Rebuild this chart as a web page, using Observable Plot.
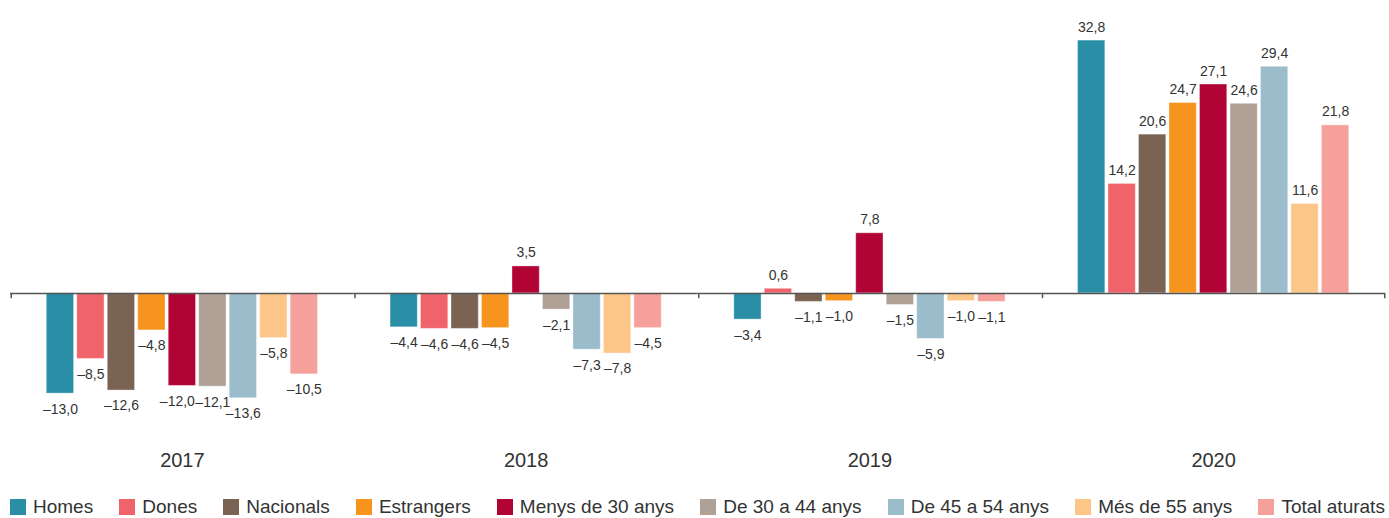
<!DOCTYPE html>
<html>
<head>
<meta charset="utf-8">
<script src="https://cdn.jsdelivr.net/npm/d3@7"></script>
<script src="https://cdn.jsdelivr.net/npm/@observablehq/plot@0.6"></script>
<style>
  html, body { margin: 0; padding: 0; background: #fff; }
  body { width: 1389px; height: 518px; overflow: hidden; font-family: "Liberation Sans", Arial, Helvetica, sans-serif; }
  #chart svg { display: block; }
  #chart svg text { font-family: "Liberation Sans", Arial, Helvetica, sans-serif; }
  #legend .lg-swatches {
    font-family: "Liberation Sans", Arial, Helvetica, sans-serif;
    font-size: 19px; color: #333; margin: 0; min-height: 0; height: 22px;
    display: flex; flex-wrap: nowrap; justify-content: space-between; align-items: center;
    padding: 0 4px 0 10px; white-space: nowrap; line-height: 22px;
  }
  #legend .lg-swatch { margin-right: 0; display: inline-flex; align-items: center; }
  #legend .lg-swatch > svg { margin-right: 7px; }
</style>
</head>
<body>
<div id="chart"></div>
<div id="legend"></div>
<script>
const years = ["2017", "2018", "2019", "2020"];
const series = ["Homes", "Dones", "Nacionals", "Estrangers", "Menys de 30 anys", "De 30 a 44 anys", "De 45 a 54 anys", "Més de 55 anys", "Total aturats"];
const colors = ["#2a8fa6", "#f0636a", "#7a6352", "#f7941e", "#b10435", "#b0a197", "#9bbccb", "#fdc689", "#f5a09a"];
const v2017 = [-13.0, -8.5, -12.6, -4.8, -12.0, -12.1, -13.6, -5.8, -10.5];
const v2018 = [-4.4, -4.6, -4.6, -4.5, 3.5, -2.1, -7.3, -7.8, -4.5];
const v2019 = [-3.4, 0.6, -1.1, -1.0, 7.8, -1.5, -5.9, -1.0, -1.1];
const v2020 = [32.8, 14.2, 20.6, 24.7, 27.1, 24.6, 29.4, 11.6, 21.8];
const valuesByYear = [v2017, v2018, v2019, v2020];

const data = years.flatMap((year, i) => series.map((s, j) => ({year, series: s, value: valuesByYear[i][j]})));
const fmt = d => (d.value < 0 ? "–" : "") + Math.abs(d.value).toFixed(1).replace(".", ",");

// label of 2017 "Menys de 30 anys" is nudged left in the original to clear its neighbour
const nudged = d => d.year === "2017" && d.series === "Menys de 30 anys";

const W = 1389, H = 496, mL = 10, mR = 4;
const bw = (W - mL - mR) / years.length;

const chart = Plot.plot({
  width: W,
  height: H,
  marginLeft: mL,
  marginRight: mR,
  marginTop: 0,
  marginBottom: 51,
  style: {fontSize: "20px", color: "#333", fontFamily: "Liberation Sans, Arial, sans-serif", background: "#fff"},
  fx: {domain: years, padding: 0, round: false, axis: "bottom", tickSize: 0, tickPadding: 7, label: null},
  x: {domain: series, paddingInner: 0.105, paddingOuter: 1.19, round: false, axis: null},
  y: {domain: [-19.73, 38.0], axis: null},
  color: {domain: series, range: colors},
  marks: [
    Plot.barY(data, {fx: "year", x: "series", y: "value", fill: "series", stroke: "#fff", strokeOpacity: 0.35, strokeWidth: 1}),
    Plot.ruleY([0], {stroke: "#555", strokeWidth: 1.5}),
    Plot.ruleX(years, {fx: d => d, x: null, y1: 0, y2: -0.68, dx: -bw / 2 + 0.75, stroke: "#555", strokeWidth: 1.5}),
    Plot.ruleX(years.slice(-1), {fx: d => d, x: null, y1: 0, y2: -0.68, dx: bw / 2 - 0.75, stroke: "#555", strokeWidth: 1.5}),
    Plot.text(data.filter(d => d.value >= 0), {fx: "year", x: "series", y: "value", text: fmt, lineAnchor: "bottom", dy: -9, fontSize: 14, fill: "#333"}),
    Plot.text(data.filter(d => d.value < 0 && !nudged(d)), {fx: "year", x: "series", y: "value", text: fmt, lineAnchor: "top", dy: 10, fontSize: 14, fill: "#333"}),
    Plot.text(data.filter(d => d.value < 0 && nudged(d)), {fx: "year", x: "series", y: "value", text: fmt, lineAnchor: "top", dy: 10, dx: -5, fontSize: 14, fill: "#333"})
  ]
});
document.getElementById("chart").appendChild(chart);

const legend = Plot.legend({
  color: {type: "ordinal", domain: series, range: colors},
  legend: "swatches",
  swatchSize: 16,
  className: "lg"
});
document.getElementById("legend").appendChild(legend);
</script>
</body>
</html>
